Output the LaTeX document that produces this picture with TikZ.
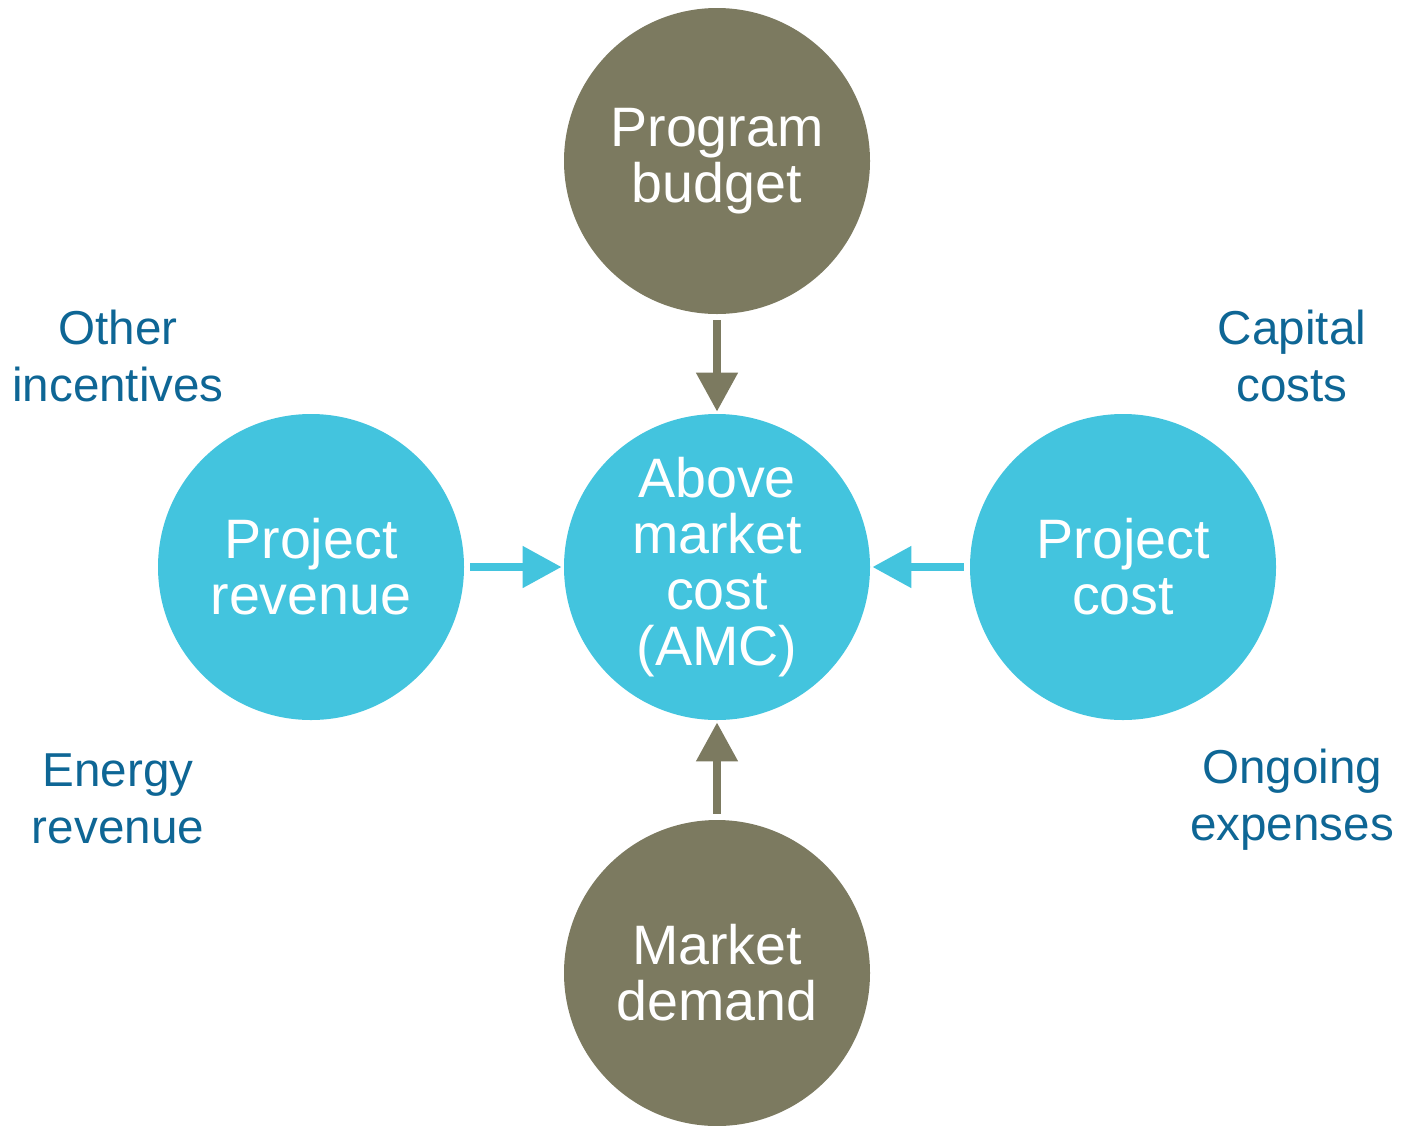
\documentclass[tikz,border=0pt]{standalone}
\usepackage{fontspec}
\setmainfont{Liberation Sans}
\usepackage{tikz}
\usetikzlibrary{arrows.meta}

\definecolor{amcblue}{RGB}{67,196,222}
\definecolor{olive}{RGB}{124,122,96}
\definecolor{labelblue}{RGB}{14,102,149}

\begin{document}
\begin{tikzpicture}[x=0.5pt,y=-0.5pt,
	bubble/.style={circle, minimum size=153pt, inner sep=0pt, align=center, text=white, font=\fontsize{27.8pt}{28pt}\selectfont},
	side/.style={align=center, text=labelblue, font=\fontsize{23.8pt}{28.5pt}\selectfont},
	flow/.style={line width=4pt, -{Triangle[width=20pt,length=19.5pt]}, shorten <=3pt, shorten >=1pt}]
				\useasboundingbox (0,0) rectangle (1401,1125);
				\node (amc) [bubble, fill=amcblue] at (717,567) {Above\\market\\cost\\(AMC)};
				\node (budget) [bubble, fill=olive, above of=amc, node distance=203pt] {Program\\budget};
				\node (demand) [bubble, fill=olive, below of=amc, node distance=203pt] {Market\\demand};
				\node (revenue) [bubble, fill=amcblue, left of=amc, node distance=203pt] {Project\\revenue};
				\node (cost) [bubble, fill=amcblue, right of=amc, node distance=203pt] {Project\\cost};
				
				% side labels
				\node (other) [side] at (118,356) {Other\\incentives};
				\node (energy) [side] at (118,799) {Energy\\revenue};
				\node (capital) [side] at (1292,356) {Capital\\costs};
				\node (ongoing) [side] at (1292,800) {Ongoing\\expenses};
				
				% Arrows
				\draw[flow, olive] (budget) -- (amc);
				\draw[flow, olive] (demand) -- (amc);
				\draw[flow, amcblue] (revenue) -- (amc);
				\draw[flow, amcblue] (cost) -- (amc);
				
			\end{tikzpicture}
\end{document}
